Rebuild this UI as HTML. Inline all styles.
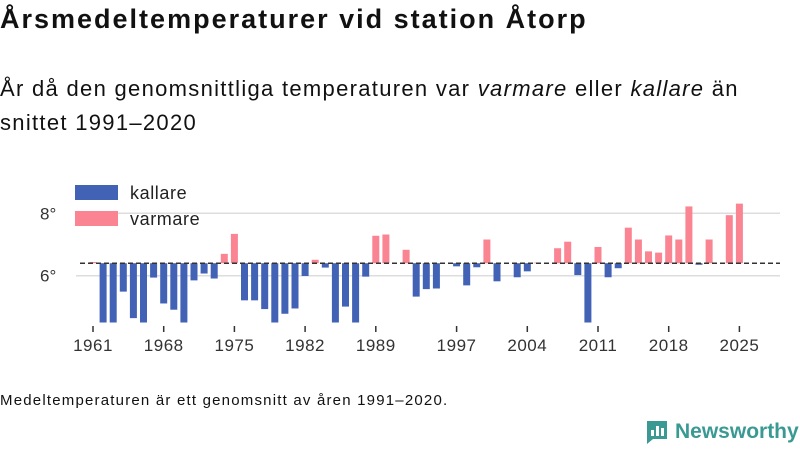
<!DOCTYPE html>
<html><head><meta charset="utf-8"><style>
body{margin:0;width:800px;height:450px;background:#fff;font-family:"Liberation Sans",sans-serif;overflow:hidden;position:relative;color:#111}
.t{position:absolute;left:0;top:4px;font-size:27px;font-weight:bold;letter-spacing:2px;white-space:nowrap}
.s{position:absolute;left:0;top:72px;font-size:22px;line-height:34px;width:800px;letter-spacing:1.3px;white-space:nowrap}
.f{position:absolute;left:0;top:392px;font-size:15px;letter-spacing:1.2px;white-space:nowrap}
.logo{position:absolute;left:645px;top:419px;font-size:21px;font-weight:bold;color:#3a9a93;display:flex;align-items:center;gap:6px}
</style></head><body>
<div class="t">Årsmedeltemperaturer vid station Åtorp</div>
<div class="s">År då den genomsnittliga temperaturen var <i>varmare</i> eller <i>kallare</i> än<br>snittet 1991–2020</div>
<svg id="c" width="800" height="450" style="position:absolute;left:0;top:0"></svg>
<div class="f">Medeltemperaturen är ett genomsnitt av åren 1991–2020.</div>
<div class="logo"><svg width="24" height="26"><path d="M2 2h20v18H8l-6 5z" fill="#3a9a93"/><rect x="6" y="11" width="3" height="6" fill="#fff"/><rect x="11" y="7" width="3" height="10" fill="#fff"/><rect x="16" y="9" width="3" height="8" fill="#fff"/></svg>Newsworthy</div>
<script>
const years=[];for(let y=1961;y<=2025;y++)years.push(y);
const temps=[6.44,4.4,4.4,5.49,4.64,4.4,5.94,5.11,4.91,4.4,5.85,6.07,5.91,6.70,7.34,5.21,5.21,4.93,4.4,4.78,4.95,5.99,6.51,6.26,4.4,5.01,4.4,5.97,7.28,7.32,6.4,6.83,5.33,5.57,5.59,6.4,6.3,5.69,6.27,7.16,5.82,6.4,5.95,6.14,6.42,6.4,6.88,7.09,6.02,4.4,6.92,5.95,6.24,7.54,7.16,6.78,6.74,7.29,7.16,8.22,6.35,7.16,6.4,7.94,8.31];
const baseline=6.4;
const yTicks=[6,8];
const xTicks=[1961,1968,1975,1982,1989,1997,2004,2011,2018,2025];
const NS="http://www.w3.org/2000/svg",svg=document.getElementById('c');
const x=y=>93+(y-1961)*10.1;
const yv=v=>275.7-(v-6)*31.2;
const yMin=4.5;
function mk(t,a){const e=document.createElementNS(NS,t);for(const k in a)e.setAttribute(k,a[k]);svg.appendChild(e);return e;}
yTicks.forEach(t=>{const g=mk('line',{x1:76,x2:780,y1:yv(t),y2:yv(t),stroke:'#ddd','stroke-width':1.5});


const l=mk('text',{x:40,y:yv(t)+6,'font-size':17,fill:'#333','font-family':'Liberation Sans'});l.textContent=t+'°';

});
years.forEach((yr,i)=>{const v=temps[i];if(Math.abs(v-baseline)<0.005)return;
const vv=Math.max(v,yMin);const y0=yv(baseline),y1=yv(vv);
const r=mk('rect',{x:x(yr)-3.5,width:7,y:Math.min(y0,y1),height:Math.abs(y1-y0),fill:v>baseline?'#fb8493':'#4262b5'});

});
const d=mk('line',{x1:80,x2:780,y1:yv(baseline),y2:yv(baseline),stroke:'#333','stroke-width':1.5,'stroke-dasharray':'5,3'});


xTicks.forEach(t=>{const k=mk('line',{x1:x(t),x2:x(t),y1:326,y2:332,stroke:'#333','stroke-width':1.5});


const l=mk('text',{x:x(t),y:351,'font-size':17,fill:'#333','text-anchor':'middle','font-family':'Liberation Sans','letter-spacing':'0.5'});l.textContent=t;

});
[['kallare','#4262b5',185],['varmare','#fb8493',211]].forEach(([n,c,yy])=>{const r=mk('rect',{x:75,y:yy,width:43,height:15,fill:c});


const l=mk('text',{x:130,y:yy+14,'font-size':18,fill:'#222','font-family':'Liberation Sans','letter-spacing':'0.6'});l.textContent=n;

});
</script>
</body></html>
